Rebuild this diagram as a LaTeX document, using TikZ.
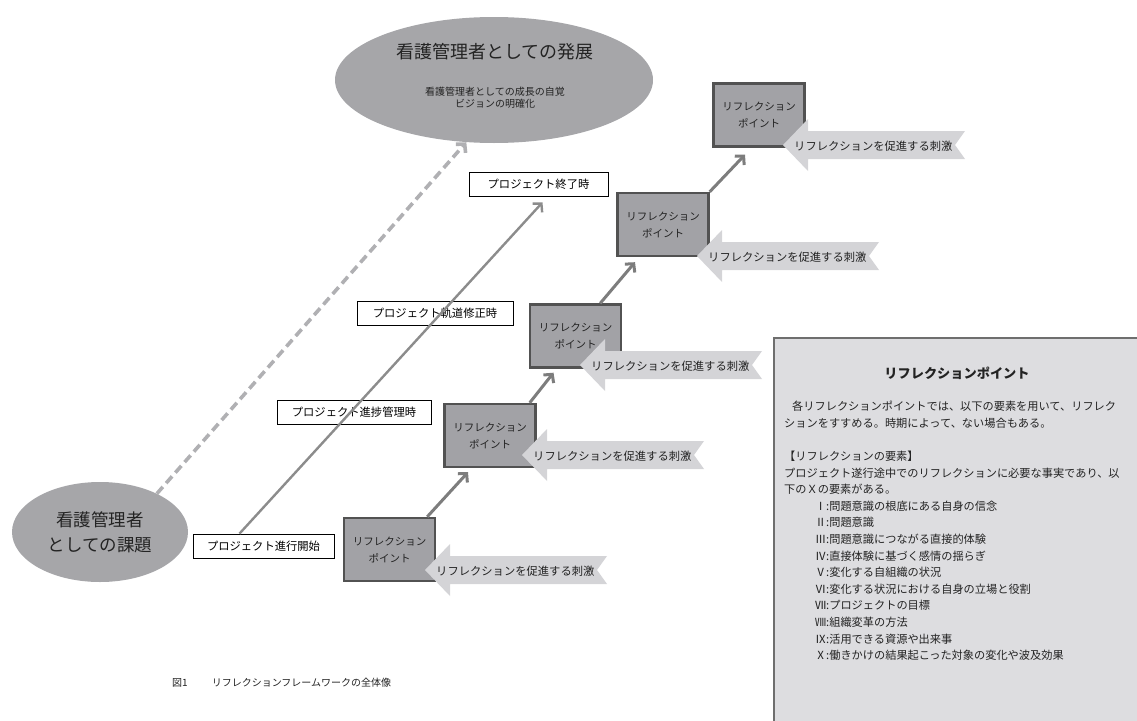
\documentclass[tikz,border=0pt]{standalone}
\usepackage{fontspec}
\setmainfont{Noto Sans CJK JP}
\usetikzlibrary{arrows.meta,shapes.geometric}

\definecolor{ovalgray}{RGB}{166,166,169}
\definecolor{pointgray}{RGB}{162,162,166}
\definecolor{pointedge}{RGB}{82,82,82}
\definecolor{stimgray}{RGB}{212,212,215}
\definecolor{panelgray}{RGB}{221,221,224}
\definecolor{paneledge}{RGB}{110,110,110}
\definecolor{stepgray}{RGB}{125,125,125}
\definecolor{longgray}{RGB}{140,140,140}
\definecolor{dashgray}{RGB}{176,176,179}
\definecolor{inkgray}{RGB}{35,35,35}

\newcommand\elemline[2]{\hspace*{24pt}\makebox[18pt][r]{#1}:#2}

\tikzset{
  oval/.style={ellipse, fill=ovalgray, inner sep=0pt, align=center, text=inkgray},
  point/.style={rectangle, fill=pointgray, draw=pointedge, line width=2.4pt,
    minimum width=91pt, minimum height=63pt, align=center, text=inkgray,
    font=\fontsize{10.5}{17}\selectfont},
  phase/.style={rectangle, draw=black, fill=white, line width=0.8pt,
    minimum height=24pt, inner sep=0pt, font=\fontsize{11.3}{13}\selectfont},
  stepline/.style={draw=stepgray, line width=3pt, -{Straight Barb[length=6pt,width=13pt]}},
  stimtext/.style={anchor=west, inner sep=0pt, text=inkgray, font=\fontsize{11.3}{13}\selectfont}
}

\begin{document}
\begin{tikzpicture}[x=1pt, y=-1pt]
  \useasboundingbox (0,0) rectangle (1137,720);

  % the two ovals
  \node[oval, minimum width=318pt, minimum height=126pt] (growth) at (494,80) {};
  \node[text=inkgray, font=\fontsize{18}{20}\selectfont] (growthtitle) at (495,52) {看護管理者としての発展};
  \node[text=inkgray, align=center, font=\fontsize{10}{11.7}\selectfont] (growthsub) at (495,97.5)
    {看護管理者としての成長の自覚\\ビジョンの明確化};
  \node[oval, minimum width=176pt, minimum height=100pt, font=\fontsize{17.5}{25}\selectfont] (issue) at (100,532)
    {看護管理者\\としての課題};

  \draw[draw=dashgray, line width=3.6pt, dash pattern=on 9pt off 5pt,
    -{Straight Barb[length=6pt,width=13pt]}] (issue.34) -- (growth.246);

  % project phases
  \node[phase, minimum width=141pt] (start) at (263.5,546) {プロジェクト進行開始};
  \node[phase, minimum width=154pt] (progress) at (354,412) {プロジェクト進捗管理時};
  \node[phase, minimum width=156pt] (correct) at (435,313.5) {プロジェクト軌道修正時};
  \node[phase, minimum width=139pt] (finish) at (538.5,184) {プロジェクト終了時};

  \draw[draw=longgray, line width=2.4pt, -{Straight Barb[length=6pt,width=13pt]}]
    ([xshift=-24pt]start.north) -- ([xshift=4pt,yshift=-6pt]finish.south);

  % reflection points
  \node[point] (rp1) at (389.5,549.5) {リフレクション\\ポイント};
  \node[point] (rp2) at (490,435.5) {リフレクション\\ポイント};
  \node[point] (rp3) at (575.5,336) {リフレクション\\ポイント};
  \node[point] (rp4) at (663,224.5) {リフレクション\\ポイント};
  \node[point] (rp5) at (759,115) {リフレクション\\ポイント};

  \draw[stepline] ([xshift=-9pt]rp1.north east) -- ([xshift=-22pt,yshift=-4pt]rp2.south);
  \draw[stepline] ([xshift=-7pt]rp2.north east) -- ([xshift=-22pt,yshift=-4pt]rp3.south);
  \draw[stepline] ([xshift=-22pt]rp3.north east) -- ([xshift=-28pt,yshift=-5pt]rp4.south);
  \draw[stepline] (rp4.north east) -- ([xshift=-14pt,yshift=-7pt]rp5.south);

  % stimulus arrows
  \foreach \x/\y [count=\i] in {425/570, 522/455, 580/365, 697/256, 783/145} {
    \fill[stimgray, shift={(\x,\y)}] (0,0) -- (25,-26) -- (25,-14) -- (182,-14) -- (172,0)
      -- (182,14) -- (25,14) -- (25,26) -- cycle;
    \node[stimtext] (stim\i) at (\x+11,\y+1.5) {リフレクションを促進する刺激};
  }

  % panel
  \filldraw[fill=panelgray, draw=paneledge, line width=2pt] (774,338) rectangle (1150,735);
  \node[text=inkgray, font=\fontsize{13.2}{15}\selectfont\bfseries] (paneltitle) at (957,373)
    {リフレクションポイント};
  \node[anchor=north west, inner sep=0pt, align=left, text=inkgray,
    font=\fontsize{11.2}{16.6}\selectfont] (elements) at (784,401)
    {\hspace*{8pt}各リフレクションポイントでは、以下の要素を用いて、リフレク\\
     ションをすすめる。時期によって、ない場合もある。\\[16.6pt]
     【リフレクションの要素】\\
     プロジェクト遂行途中でのリフレクションに必要な事実であり、以\\
     下のＸの要素がある。\\
     \elemline{Ⅰ}{問題意識の根底にある自身の信念}\\
     \elemline{Ⅱ}{問題意識}\\
     \elemline{Ⅲ}{問題意識につながる直接的体験}\\
     \elemline{Ⅳ}{直接体験に基づく感情の揺らぎ}\\
     \elemline{Ⅴ}{変化する自組織の状況}\\
     \elemline{Ⅵ}{変化する状況における自身の立場と役割}\\
     \elemline{Ⅶ}{プロジェクトの目標}\\
     \elemline{Ⅷ}{組織変革の方法}\\
     \elemline{Ⅸ}{活用できる資源や出来事}\\
     \elemline{Ⅹ}{働きかけの結果起こった対象の変化や波及効果}};

  % caption
  \node[anchor=west, inner sep=0pt, text=inkgray, font=\fontsize{10}{12}\selectfont] (caption) at (172,683)
    {図1\hspace{24pt}リフレクションフレームワークの全体像};
\end{tikzpicture}
\end{document}
